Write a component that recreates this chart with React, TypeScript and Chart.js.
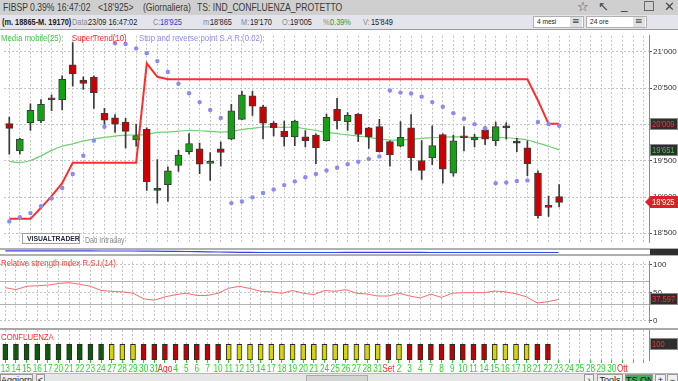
import React, { useEffect, useRef } from "react";
import { Chart, registerables } from "chart.js";

Chart.register(...registerables);

// ---------- DATA ----------
const dateLabels = ["13","14","15","16","17","20","21","22","23","24","27","28","29","30","31","Ago","4","5","6","7","10","11","12","13","14","17","18","19","20","21","24","25","26","27","28","31","Set","2","3","4","7","8","9","10","11","14","15","16","17","18","21","22","23","24","25","28","29","30","Ott","",""];
const monthLabels = ["Ago", "Set", "Ott"];

const opens = [20012,19634,20025,20047,20357,20338,20821,20612,20652,20152,20090,20034,19786,19934,19121,19169,19434,19626,19665,19464,19665,19796,20070,20396,20243,20017,19908,19829,19829,19852,19777,20208,20034,20143,19952,19969,19764,19699,19952,19503,19538,19861,19330,19835,19786,19926,19777,19952,19743,19678,19330,18869,19005];
const highs = [20100,19810,20286,20343,20410,20670,21127,20657,20670,20221,20135,20083,20004,19952,19516,19417,19643,19874,19743,19613,19756,20278,20461,20461,20265,20040,20047,20060,19917,19870,20143,20361,20165,20150,19960,20070,19775,20038,20135,19777,19982,19870,19852,19969,19865,19969,20034,20025,19809,19773,19360,19013,19170];
const lows = [19590,19590,19917,20025,20190,20200,20526,20482,20221,19995,19891,19678,19699,19091,18916,18938,19352,19591,19320,19229,19425,19790,20065,20126,19799,19842,19699,19708,19691,19460,19770,19939,19917,19764,19669,19620,19425,19690,19365,19242,19447,19190,19287,19634,19691,19721,19708,19796,19626,19295,18707,18733,18865];
const closes = [19947,19800,20195,20278,20340,20622,20696,20565,20439,20060,20004,19904,19848,19212,19091,19360,19577,19738,19451,19482,19613,20187,20409,20252,20017,19956,19829,20047,19777,19678,20099,20047,20126,19861,19829,19626,19581,19822,19538,19365,19708,19382,19773,19817,19822,19796,19969,19952,19743,19460,18742,18856,18925];

const superTrend = [18699,18699,18699,18851,19013,19190,19473,19473,19473,19473,19473,19473,19473,20843,20657,20622,20622,20622,20622,20622,20622,20622,20622,20622,20622,20622,20622,20622,20622,20622,20622,20622,20622,20622,20622,20622,20622,20622,20622,20622,20622,20622,20622,20622,20622,20622,20622,20622,20622,20622,20330,20009,20009];
const sma25 = [19490,19473,19503,19568,19643,19699,19734,19773,19799,19822,19839,19852,19856,19861,19891,19895,19908,19917,19913,19904,19895,19904,19930,19947,19965,19965,19960,19962,19939,19917,19891,19874,19856,19839,19822,19799,19786,19786,19796,19809,19817,19826,19830,19826,19822,19822,19822,19817,19804,19786,19743,19699,19651];
const sar = [18664,18720,18778,18873,18981,19125,19317,19568,19777,19969,21120,21110,21048,20983,20873,20722,20561,20430,20308,20200,20090,18916,18938,18995,19056,19104,19164,19215,19273,19317,19365,19404,19451,19486,19525,19560,20469,20439,20426,20383,20308,20243,20156,20078,20004,19947,19190,19199,19221,19229,20034,20004,19982];
const rsi = [58.7,55.2,61.2,62.2,63.2,66.2,67.7,64.7,61.2,53.7,52.2,51.2,48.8,38.8,36.3,42.3,46.3,48.8,44.8,44.8,48.8,57.7,61.2,57.2,52.2,51.2,48.8,53.7,48.8,46.3,53.7,52.2,55.2,48.8,47.3,43.8,43.8,48.8,43.8,40.3,47.3,41.3,48.8,49.8,49.8,49.8,52.7,51.2,47.8,42.3,31.3,33.8,37.597];
const volumeAvg = [19,19,19,19,19,19,19,19,19,18,18,18,18,17,17,16,16,15,14,13,12,11,10,10,9,9,9,9,9,9,9,9,10,10,10,10,10,10,10,10,9,9,9,9,9,9,9,9,9,9,9,9,9];
const confluenzaState = ["G","G","G","G","G","G","G","G","G","G","Y","Y","Y","R","R","R","R","R","R","R","R","Y","Y","Y","Y","Y","Y","Y","Y","Y","Y","Y","Y","Y","Y","Y","R","Y","R","R","R","R","R","R","R","R","Y","Y","Y","Y","R","R"];
const confluenzaValue = [100,100,100,100,100,100,100,100,100,100,100,100,100,100,100,100,100,100,100,100,100,100,100,100,100,100,100,100,100,100,100,100,100,100,100,100,100,100,100,100,100,100,100,100,100,100,100,100,100,100,100,100];

const priceTicks = [18500, 19000, 19500, 20000, 20500, 21000];
const rsiTicks = [0, 50, 100];
const rsiLevels = [30, 70];

// ---------- STYLE ----------
const SANS = "'Liberation Sans', Arial, sans-serif";
const COND = 0.82;
const AXIS_W = 29;
const GRID = "#c4c4c4";

const fmtPrice = (v: number) => Math.round(v).toString().replace(/\B(?=(\d{3})+(?!\d))/g, "'");

function condText(ctx: any, text: string, x: number, y: number, font: string, color: string, align: "left" | "center" = "left", k = COND) {
  ctx.save();
  ctx.font = font;
  ctx.fillStyle = color;
  ctx.textBaseline = "middle";
  ctx.textAlign = align;
  ctx.translate(x, y);
  ctx.scale(k, 1);
  ctx.fillText(text, 0, 0);
  ctx.restore();
}

type Box = { value: number; text: string; bg: string; fg: string; arrow?: boolean };

function boxesPlugin(id: string, boxes: Box[]) {
  return {
    id,
    afterDraw(chart: any) {
      const { ctx, chartArea, scales } = chart;
      ctx.save();
      boxes.forEach((b) => {
        const py = Math.round(scales.y.getPixelForValue(b.value));
        const x = chartArea.right + 1;
        const w = chart.width - x;
        const h = 12;
        const top = py - h / 2;
        ctx.fillStyle = b.bg;
        if (b.arrow) {
          ctx.beginPath();
          ctx.moveTo(x - 5, py);
          ctx.lineTo(x + 1, top);
          ctx.lineTo(x + 1, top + h);
          ctx.closePath();
          ctx.fill();
        }
        ctx.fillRect(x, top, w, h);
        if (!b.arrow) {
          ctx.strokeStyle = "#8a8a8a";
          ctx.lineWidth = 1;
          ctx.strokeRect(x + 0.5, top + 0.5, w - 1, h - 1);
        }
        condText(ctx, b.text, x + 2, py + 0.5, "9.5px " + SANS, b.fg, "left", 0.8);
      });
      ctx.restore();
    },
  };
}

const levelsPlugin = {
  id: "rsiLevels",
  beforeDatasetsDraw(chart: any) {
    const { ctx, chartArea, scales } = chart;
    ctx.save();
    ctx.strokeStyle = "#b4b4b4";
    ctx.lineWidth = 1;
    rsiLevels.forEach((v) => {
      const py = Math.round(scales.y.getPixelForValue(v)) + 0.5;
      ctx.beginPath();
      ctx.moveTo(chartArea.left, py);
      ctx.lineTo(chartArea.right, py);
      ctx.stroke();
    });
    ctx.restore();
  },
};

// draws category labels of the x scale in a condensed face
const xLabelsPlugin = {
  id: "xLabels",
  afterDraw(chart: any) {
    const { ctx, chartArea, scales } = chart;
    const xs = scales.x;
    xs.ticks.forEach((t: any, i: number) => {
      const label = String(xs.getLabelForValue(t.value) ?? "");
      if (!label) return;
      const px = xs.getPixelForTick(i);
      const color = monthLabels.includes(label) ? "#ff2a2a" : "#22dd22";
      condText(ctx, label, px, chartArea.bottom + 9, "10px " + SANS, color, "center");
    });
  },
};

function xScale(tickMarks: boolean) {
  return {
    type: "category",
    labels: dateLabels,
    offset: true,
    grid: {
      display: true,
      offset: false,
      color: GRID,
      lineWidth: 1,
      drawTicks: tickMarks,
      tickLength: 3,
      tickColor: "#33cc33",
      borderDash: [2, 2],
    },
    border: { display: false, dash: [2, 2] },
    ticks: { display: false, autoSkip: false, maxRotation: 0 },
    afterFit: (s: any) => {
      s.height = tickMarks ? 15 : 0;
    },
  };
}

function yScale(min: number, max: number, ticks: number[] | null, gridOn: boolean) {
  return {
    position: "right",
    min,
    max,
    grid: {
      display: true,
      drawOnChartArea: gridOn,
      drawTicks: !!ticks,
      tickLength: 3,
      tickColor: "#555",
      color: GRID,
      borderDash: [2, 2],
    },
    border: { display: true, color: "#8c8c8c", width: 1, dash: [2, 2] },
    ticks: {
      display: !!ticks,
      padding: 1,
      color: "#333",
      font: { size: 8, family: SANS },
      callback: (v: any) => fmtPrice(Number(v)),
    },
    afterBuildTicks: (s: any) => {
      s.ticks = (ticks || []).map((v) => ({ value: v }));
    },
    afterFit: (s: any) => {
      s.width = AXIS_W;
    },
  };
}

const baseOptions = {
  responsive: false,
  animation: false,
  devicePixelRatio: 1,
  layout: { padding: 0 },
  plugins: { legend: { display: false }, tooltip: { enabled: false } },
};

const Txt = (p: { x: number; y: number; c?: string; s?: number; f?: string; b?: boolean; k?: number; children: any }) => (
  <span
    style={{
      position: "absolute",
      left: p.x,
      top: p.y,
      color: p.c || "#333",
      fontSize: p.s || 9,
      fontFamily: p.f || SANS,
      fontWeight: p.b ? "bold" : "normal",
      whiteSpace: "nowrap",
      lineHeight: 1,
      zIndex: 5,
      transform: `scaleX(${p.k ?? COND})`,
      transformOrigin: "left top",
    }}
  >
    {p.children}
  </span>
);

export default function App() {
  const mainRef = useRef<HTMLCanvasElement>(null);
  const volRef = useRef<HTMLCanvasElement>(null);
  const rsiRef = useRef<HTMLCanvasElement>(null);
  const confRef = useRef<HTMLCanvasElement>(null);

  useEffect(() => {
    document.body.style.margin = "0";
    const UP = "#14a214";
    const DOWN = "#cc0000";
    const FLAT = "#111111";
    const bodies = opens.map((o, i) => [o, closes[i]]);
    const wicks = lows.map((l, i) => [l, highs[i]]);
    const bodyColors = opens.map((o, i) => (closes[i] > o ? UP : closes[i] < o ? DOWN : FLAT));
    const confColors = confluenzaState.map((s) => (s === "G" ? "#0a5c0a" : s === "Y" ? "#d6d600" : "#c20000"));
    const last = opens.length - 1;

    const charts: Chart[] = [];

    charts.push(
      new Chart(mainRef.current as HTMLCanvasElement, {
        type: "bar",
        data: {
          labels: dateLabels,
          datasets: [
            { type: "line", label: "Media mobile(25)", data: sma25, borderColor: "#6fd06f", borderWidth: 1.2, pointRadius: 0, tension: 0.3, order: 6 } as any,
            { type: "bar", label: "wick", data: wicks, backgroundColor: "#3a3a3a", barThickness: 1, grouped: false, order: 5 } as any,
            { type: "bar", label: "body", data: bodies, backgroundColor: bodyColors, borderColor: "#3c3c3c", borderWidth: 1, borderSkipped: false, barThickness: 7, minBarLength: 2, grouped: false, order: 4 } as any,
            { type: "line", label: "SuperTrend(10)", data: superTrend, borderColor: "#ff2e2e", borderWidth: 2, pointRadius: 0, order: 3 } as any,
            { type: "line", label: "SAR", data: sar, showLine: false, pointRadius: 2.2, pointBackgroundColor: "#8a8af2", pointBorderWidth: 0, order: 2 } as any,
          ],
        },
        options: {
          ...baseOptions,
          scales: { x: xScale(false), y: yScale(18377, 21222, priceTicks, true) },
        } as any,
        plugins: [
          boxesPlugin("mainBoxes", [
            { value: superTrend[last], text: fmtPrice(superTrend[last]), bg: "#2e2e2e", fg: "#ff3030" },
            { value: sma25[last], text: fmtPrice(sma25[last]), bg: "#2e2e2e", fg: "#38d038" },
            { value: closes[last], text: fmtPrice(closes[last]), bg: "#d42424", fg: "#ffffff", arrow: true },
          ]),
        ],
      })
    );

    charts.push(
      new Chart(volRef.current as HTMLCanvasElement, {
        type: "line",
        data: {
          labels: dateLabels,
          datasets: [{ data: volumeAvg, borderColor: "#3344ee", borderWidth: 1.2, pointRadius: 0 }],
        },
        options: {
          ...baseOptions,
          scales: {
            x: { ...xScale(false), grid: { display: false } },
            y: { ...yScale(0, 24, null, false), border: { display: false } },
          },
        } as any,
      })
    );

    charts.push(
      new Chart(rsiRef.current as HTMLCanvasElement, {
        type: "line",
        data: {
          labels: dateLabels,
          datasets: [{ data: rsi, borderColor: "#ff6a6a", borderWidth: 1, pointRadius: 0 }],
        },
        options: {
          ...baseOptions,
          scales: { x: xScale(false), y: yScale(-3, 105, rsiTicks, true) },
        } as any,
        plugins: [
          levelsPlugin,
          boxesPlugin("rsiBoxes", [{ value: rsi[last], text: rsi[last].toFixed(3), bg: "#2e2e2e", fg: "#ff3030" }]),
        ],
      })
    );

    charts.push(
      new Chart(confRef.current as HTMLCanvasElement, {
        type: "bar",
        data: {
          labels: dateLabels,
          datasets: [
            { data: confluenzaValue, backgroundColor: confColors, borderColor: "#2a2a2a", borderWidth: 1, borderSkipped: false, barThickness: 5 } as any,
          ],
        },
        options: {
          ...baseOptions,
          scales: { x: xScale(true), y: yScale(0, 191, null, false) },
        } as any,
        plugins: [
          xLabelsPlugin,
          boxesPlugin("confBoxes", [{ value: confluenzaValue[confluenzaValue.length - 1], text: String(confluenzaValue[confluenzaValue.length - 1]), bg: "#2e2e2e", fg: "#ff3030" }]),
        ],
      })
    );

    return () => charts.forEach((c) => c.destroy());
  }, []);

  const canvasStyle = (top: number, h: number): React.CSSProperties => ({
    position: "absolute",
    left: 0,
    top,
    width: 678,
    height: h,
  });

  const btn = (left: number, width: number, label: string, bg = "#f0f0f0", color = "#222") => (
    <div
      style={{
        position: "absolute",
        left,
        top: 374,
        width,
        height: 12,
        background: bg,
        border: "1px solid #9a9a9a",
        boxSizing: "border-box",
        fontFamily: SANS,
        fontSize: 9,
        color,
        textAlign: "center",
        lineHeight: "11px",
        overflow: "hidden",
        whiteSpace: "nowrap",
      }}
    >
      {label}
    </div>
  );

  return (
    <div style={{ position: "fixed", left: 0, top: 0, width: 678, height: 381, overflow: "hidden", background: "#fff" }}>
      {/* title bar */}
      <div style={{ position: "absolute", left: 0, top: 0, width: 678, height: 15, background: "#cfcfcf" }} />
      <Txt x={3} y={2} s={10.5} c="#3a3a3a">FIBSP 0.39% 16:47:02</Txt>
      <Txt x={98} y={2} s={10.5} c="#3a3a3a">&lt;18'925&gt;</Txt>
      <Txt x={143} y={2} s={10.5} c="#3a3a3a">(Giornaliera)</Txt>
      <Txt x={197} y={2} s={10.5} c="#3a3a3a">TS: IND_CONFLUENZA_PROTETTO</Txt>
      <Txt x={577} y={0} s={13} c="#444" f="'DejaVu Sans'" k={1}>☆</Txt>
      <Txt x={598} y={0} s={13} c="#444" f="'DejaVu Sans'" k={1}>↖</Txt>
      <Txt x={621} y={-2} s={13} c="#444" f="'DejaVu Sans'" k={1}>_</Txt>
      <Txt x={643} y={0} s={13} c="#444" f="'DejaVu Sans'" k={1}>☐</Txt>
      <Txt x={664} y={0} s={13} c="#444" f="'DejaVu Sans'" k={1}>✕</Txt>

      {/* info bar */}
      <div style={{ position: "absolute", left: 0, top: 15, width: 678, height: 14, background: "#e4e4ec", borderBottom: "1px solid #9a9a9a" }} />
      <Txt x={2} y={18} s={9} c="#222" b>(m. 18865-M. 19170)</Txt>
      <Txt x={72} y={18} s={9} c="#8a8a8a">Data:</Txt>
      <Txt x={88} y={18} s={9} c="#222">23/09 16:47:02</Txt>
      <Txt x={153} y={18} s={9} c="#8a8a8a">C:</Txt>
      <Txt x={160} y={18} s={9} c="#2a3adf">18'925</Txt>
      <Txt x={203} y={18} s={9} c="#8a8a8a">m:</Txt>
      <Txt x={210} y={18} s={9} c="#222">18'865</Txt>
      <Txt x={241} y={18} s={9} c="#8a8a8a">M:</Txt>
      <Txt x={250} y={18} s={9} c="#222">19'170</Txt>
      <Txt x={282} y={18} s={9} c="#8a8a8a">O:</Txt>
      <Txt x={290} y={18} s={9} c="#222">19'005</Txt>
      <Txt x={323} y={18} s={9} c="#8a8a8a">%:</Txt>
      <Txt x={330} y={18} s={9} c="#2aa02a">0.39%</Txt>
      <Txt x={363} y={18} s={9} c="#8a8a8a">V:</Txt>
      <Txt x={371} y={18} s={9} c="#222">15'849</Txt>
      <div style={{ position: "absolute", left: 533, top: 16, width: 51, height: 12, background: "#fff", border: "1px solid #b0b0b0", boxSizing: "border-box" }} />
      <Txt x={537} y={18} s={8} c="#222">4 mesi</Txt>
      <div style={{ position: "absolute", left: 570, top: 17, width: 12, height: 10, background: "#e0e0e0", zIndex: 4 }} />
      <Txt x={572} y={17} s={9} c="#444" f="'DejaVu Sans'" k={1}>≡</Txt>
      <div style={{ position: "absolute", left: 586, top: 16, width: 61, height: 12, background: "#fff", border: "1px solid #b0b0b0", boxSizing: "border-box" }} />
      <Txt x={590} y={18} s={8} c="#222">24 ore</Txt>
      <div style={{ position: "absolute", left: 633, top: 17, width: 12, height: 10, background: "#e0e0e0", zIndex: 4 }} />
      <Txt x={635} y={17} s={9} c="#444" f="'DejaVu Sans'" k={1}>≡</Txt>

      {/* main chart */}
      <canvas ref={mainRef} width={678} height={218} style={canvasStyle(30, 218)} />
      <Txt x={1} y={33} s={9.5} c="#44c444">Media mobile(25)</Txt>
      <Txt x={72} y={33} s={9.5} c="#ff2424">SuperTrend(10)</Txt>
      <Txt x={139} y={33} s={9.5} c="#8c8cf4">Stop and reverse point S.A.R.(0.02)</Txt>
      <div
        style={{
          position: "absolute", left: 22, top: 233, width: 58, height: 11, background: "#fff", border: "1px solid #a0a0a0",
          boxSizing: "border-box", zIndex: 5,
        }}
      />
      <Txt x={27} y={235} s={8} c="#1c2440" b k={0.85}>VISUALTRADER</Txt>
      <Txt x={85} y={236} s={8.5} c="#8a8a8a">Dati Intraday</Txt>

      {/* separators + volume strip */}
      <div style={{ position: "absolute", left: 0, top: 248, width: 678, height: 2, background: "#b0b0b0" }} />
      <canvas ref={volRef} width={678} height={4} style={canvasStyle(250, 4)} />
      <div style={{ position: "absolute", left: 650, top: 249, width: 28, height: 6, background: "#2e2e2e", zIndex: 4 }} />
      <div style={{ position: "absolute", left: 0, top: 254, width: 678, height: 2, background: "#b0b0b0" }} />

      {/* RSI */}
      <canvas ref={rsiRef} width={678} height={72} style={canvasStyle(256, 72)} />
      <Txt x={1} y={258} s={9.5} c="#ff3a3a">Relative strength index R.S.I.(14)</Txt>
      <div style={{ position: "absolute", left: 0, top: 328, width: 678, height: 2, background: "#a8a8a8" }} />

      {/* CONFLUENZA */}
      <canvas ref={confRef} width={678} height={45} style={canvasStyle(330, 45)} />
      <Txt x={1} y={332} s={9.5} c="#ff2a2a">CONFLUENZA</Txt>

      {/* bottom bar */}
      <div style={{ position: "absolute", left: 0, top: 373, width: 678, height: 8, background: "#e6e6e6", borderTop: "1px solid #b8b8b8" }} />
      {btn(0, 33, "Aggiorna")}
      {btn(36, 9, "<")}
      <div style={{ position: "absolute", left: 306, top: 375, width: 60, height: 6, background: "#d4d4d4", border: "1px solid #aaa" }} />
      {btn(584, 10, "›")}
      {btn(597, 26, "Tools")}
      {btn(625, 28, "TS ON", "#3cb05a", "#111")}
      {btn(655, 11, "+")}
      {btn(667, 11, "−")}
    </div>
  );
}
